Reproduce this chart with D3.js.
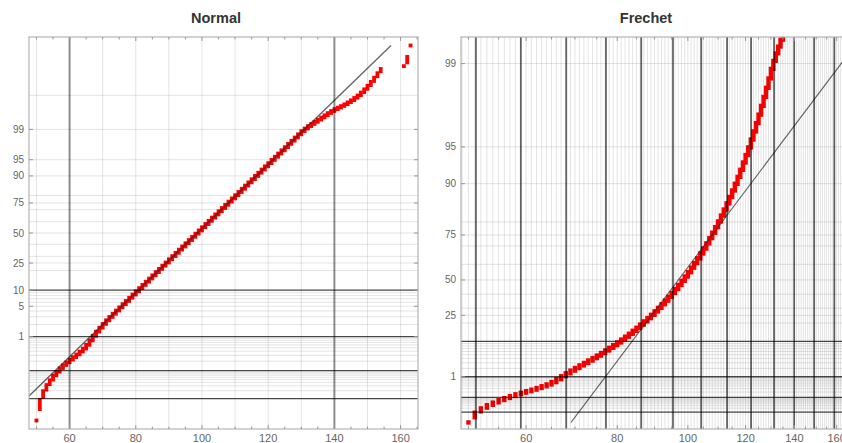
<!DOCTYPE html>
<html>
<head>
<meta charset="utf-8">
<script src="https://cdn.jsdelivr.net/npm/d3@7"></script>
<style>
  html, body { margin: 0; padding: 0; background: #fff; }
  svg { display: block; font-family: Arial, "Liberation Sans", sans-serif; }
</style>
</head>
<body>
<svg id="chart" width="842" height="443"></svg>
<script>
// Frequency table of integer scores: score value and number of observations
const scores = [50,51,52,53,54,55,56,57,58,59,60,61,62,63,64,65,66,67,68,69,
  70,71,72,73,74,75,76,77,78,79,80,81,82,83,84,85,86,87,88,89,
  90,91,92,93,94,95,96,97,98,99,100,101,102,103,104,105,106,107,108,109,
  110,111,112,113,114,115,116,117,118,119,120,121,122,123,124,125,126,127,128,129,
  130,131,132,133,134,135,136,137,138,139,140,141,142,143,144,145,146,147,148,149,
  150,151,152,153,154,161,162,163];
const counts = [1,3,4,5,6,8,9,11,12,13,15,17,21,27,33,50,75,100,115,130,
  150,170,185,202,231,261,296,330,370,410,453,498,543,592,640,689,737,785,833,877,
  920,960,997,1028,1057,1081,1097,1112,1117,1119,1114,1104,1088,1067,1041,1009,976,936,894,851,
  804,758,707,660,610,563,516,471,427,385,346,310,274,243,214,187,163,141,121,104,
  89,62,50,40,35,32,28,25,22,18,14,11,10,10,10,9,9,8,8,7,
  6,5,4,3,2,1,2,1];

// Fitted reference distributions
const normalFit = { mu: 98.6, sigma: 13.9 };
const frechetFit = { alpha: 8.23, beta: 92.8 };

// Axis labels and grid levels (percent)
const normalTickPct = [1, 5, 10, 25, 50, 75, 90, 95, 99];
const frechetTickPct = [1, 25, 50, 75, 90, 95, 99];
const xTickValues = [60, 80, 100, 120, 140, 160];
const darkGridPct = [10, 1, 0.1, 0.01];
const lightGridPct = [99.9, 99, 95, 90, 80, 75, 70, 60, 50, 40, 30, 25, 20,
  9, 8, 7, 6, 5, 4, 3, 2, 0.9, 0.8, 0.7, 0.6, 0.5, 0.4, 0.3, 0.2,
  0.09, 0.08, 0.07, 0.06, 0.05, 0.04, 0.03, 0.02];
const normalDarkX = [60, 140];
const normalLightX = [50, 70, 80, 90, 100, 110, 120, 130, 150, 160];
const frechetDarkX = [51.2, 59.0, 68.1, 77.2, 86.3, 95.4, 104.3, 113.2, 122.1, 131.3, 139.9, 149.0, 158.8];

// Inverse standard normal CDF (Acklam's rational approximation)
function probit(p) {
  const a = [-3.969683028665376e+01, 2.209460984245205e+02, -2.759285104469687e+02, 1.383577518672690e+02, -3.066479806614716e+01, 2.506628277459239e+00];
  const b = [-5.447609879822406e+01, 1.615858368580409e+02, -1.556989798598866e+02, 6.680131188771972e+01, -1.328068155288572e+01];
  const c = [-7.784894002430293e-03, -3.223964580411365e-01, -2.400758277161838e+00, -2.549732539343734e+00, 4.374664141464968e+00, 2.938163982698783e+00];
  const d = [7.784695709041462e-03, 3.224671290700398e-01, 2.445134137142996e+00, 3.754408661907416e+00];
  const pl = 0.02425;
  let q, r;
  if (p < pl) {
    q = Math.sqrt(-2 * Math.log(p));
    return (((((c[0]*q + c[1])*q + c[2])*q + c[3])*q + c[4])*q + c[5]) / ((((d[0]*q + d[1])*q + d[2])*q + d[3])*q + 1);
  }
  if (p <= 1 - pl) {
    q = p - 0.5; r = q * q;
    return (((((a[0]*r + a[1])*r + a[2])*r + a[3])*r + a[4])*r + a[5])*q / (((((b[0]*r + b[1])*r + b[2])*r + b[3])*r + b[4])*r + 1);
  }
  q = Math.sqrt(-2 * Math.log(1 - p));
  return -(((((c[0]*q + c[1])*q + c[2])*q + c[3])*q + c[4])*q + c[5]) / ((((d[0]*q + d[1])*q + d[2])*q + d[3])*q + 1);
}
// Reduced variate of the Frechet (extreme value) probability paper
const gumbelVariate = p => -Math.log(-Math.log(p));

// Plotting positions: each tied score forms a vertical run of order statistics
const n = d3.sum(counts);
let cum = 0;
const runs = scores.map((s, i) => {
  const lo = (cum + 0.5) / n;
  cum += counts[i];
  const hi = (cum - 0.5) / n;
  return { score: s, lo, hi };
});
const pMin = 0.5 / n, pMax = 1 - 0.5 / n;

const svg = d3.select("#chart");

function drawPanel(cfg) {
  const { left, right, top, bottom } = cfg;
  const g = svg.append("g");
  const x = cfg.x.range([left, right]);
  const yT = d3.scaleLinear().domain(cfg.yDomain).range([bottom, top]);
  const y = p => yT(cfg.transform(p));

  const clipId = "clip-" + cfg.id;
  svg.append("clipPath").attr("id", clipId)
    .append("rect").attr("x", left).attr("y", top)
    .attr("width", right - left).attr("height", bottom - top);

  const plot = g.append("g").attr("clip-path", `url(#${clipId})`);

  // data runs
  plot.append("g").selectAll("rect").data(runs).join("rect")
    .attr("x", d => x(d.score) - cfg.marker / 2)
    .attr("y", d => y(d.hi) - cfg.marker / 2)
    .attr("width", cfg.marker)
    .attr("height", d => y(d.lo) - y(d.hi) + cfg.marker)
    .attr("fill", "#ff0000");

  // fitted reference line over the plotting-position range
  plot.append("path")
    .datum([pMin, pMax])
    .attr("d", d3.line().x(p => x(cfg.quantile(p))).y(p => y(p)))
    .attr("fill", "none")
    .attr("stroke", "rgba(40,40,40,0.7)")
    .attr("stroke-width", cfg.refWidth);

  // grid lines, drawn in front of the data
  const grid = plot.append("g");
  grid.selectAll("line.lx").data(cfg.lightX).join("line")
    .attr("x1", d => x(d)).attr("x2", d => x(d))
    .attr("y1", top).attr("y2", bottom)
    .attr("stroke", "rgba(0,0,0,0.11)").attr("stroke-width", 1);
  grid.selectAll("line.ly").data(lightGridPct.filter(v => cfg.transform(v / 100) < cfg.yDomain[1])).join("line")
    .attr("x1", left).attr("x2", right)
    .attr("y1", d => y(d / 100)).attr("y2", d => y(d / 100))
    .attr("stroke", "rgba(0,0,0,0.11)").attr("stroke-width", 1);
  grid.selectAll("line.dx").data(cfg.darkX).join("line")
    .attr("x1", d => x(d)).attr("x2", d => x(d))
    .attr("y1", top).attr("y2", bottom)
    .attr("stroke", cfg.darkXColor).attr("stroke-width", cfg.darkXWidth);
  grid.selectAll("line.dy").data(darkGridPct).join("line")
    .attr("x1", left).attr("x2", right)
    .attr("y1", d => y(d / 100)).attr("y2", d => y(d / 100))
    .attr("stroke", "rgba(0,0,0,0.72)").attr("stroke-width", 1.3);

  // frame
  g.append("rect").attr("x", left).attr("y", top)
    .attr("width", right - left).attr("height", bottom - top)
    .attr("fill", "none").attr("stroke", "#b4b4b4").attr("stroke-width", 1.2);

  // frame ticks
  const ticks = g.append("g").attr("stroke", "#999").attr("stroke-width", 1);
  cfg.minorX.forEach(v => {
    const xv = x(v);
    if (xv < left || xv > right) return;
    const len = xTickValues.includes(v) ? 4 : 2.5;
    ticks.append("line").attr("x1", xv).attr("x2", xv).attr("y1", top).attr("y2", top + len);
    ticks.append("line").attr("x1", xv).attr("x2", xv).attr("y1", bottom).attr("y2", bottom - len);
  });
  cfg.tickPct.forEach(v => {
    const yv = y(v / 100);
    ticks.append("line").attr("x1", left).attr("x2", left + 4).attr("y1", yv).attr("y2", yv);
    ticks.append("line").attr("x1", right).attr("x2", right - 4).attr("y1", yv).attr("y2", yv);
  });

  // tick labels
  g.append("g").selectAll("text").data(cfg.tickPct).join("text")
    .attr("x", left - 5).attr("y", d => y(d / 100) + 3.5)
    .attr("text-anchor", "end").attr("font-size", 10).attr("fill", "#666")
    .text(d => d);
  g.append("g").selectAll("text").data(xTickValues).join("text")
    .attr("x", d => x(d)).attr("y", bottom + 13)
    .attr("text-anchor", "middle").attr("font-size", 11).attr("fill", "#666")
    .text(d => d);

  // title
  g.append("text").attr("x", cfg.titleX).attr("y", 23)
    .attr("text-anchor", "middle").attr("font-size", 14.5).attr("font-weight", "bold")
    .attr("fill", "#333").text(cfg.title);
}

drawPanel({
  id: "normal", title: "Normal", titleX: 216,
  left: 29, right: 418, top: 37, bottom: 429,
  x: d3.scaleLinear().domain([47.74, 165.26]),
  yDomain: [-4.40, 4.40], transform: probit,
  quantile: p => normalFit.mu + normalFit.sigma * probit(p),
  marker: 3.8, refWidth: 1.4,
  lightX: normalLightX, darkX: normalDarkX,
  darkXColor: "rgba(0,0,0,0.45)", darkXWidth: 2,
  minorX: d3.range(50, 166, 5),
  tickPct: normalTickPct
});

drawPanel({
  id: "frechet", title: "Frechet", titleX: 646,
  left: 461, right: 850, top: 37, bottom: 429,
  x: d3.scaleLog().domain([48.84, 166.87]),
  yDomain: [-2.55, 5.12], transform: gumbelVariate,
  quantile: p => frechetFit.beta * Math.pow(-Math.log(p), -1 / frechetFit.alpha),
  marker: 4.4, refWidth: 1.1,
  lightX: d3.range(49, 167, 1), darkX: frechetDarkX,
  darkXColor: "rgba(0,0,0,0.6)", darkXWidth: 1.8,
  minorX: d3.range(50, 166, 5),
  tickPct: frechetTickPct
});
</script>
</body>
</html>
